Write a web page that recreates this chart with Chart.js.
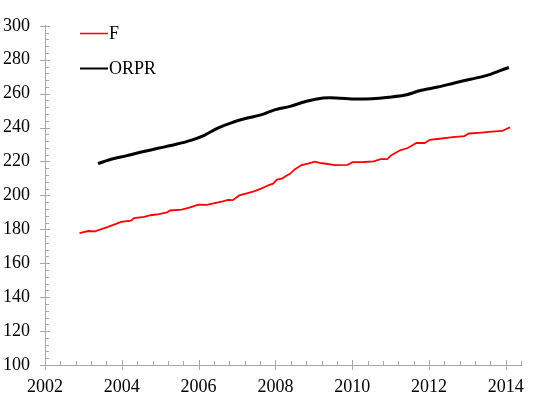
<!DOCTYPE html>
<html>
<head>
<meta charset="utf-8">
<script src="https://cdn.jsdelivr.net/npm/chart.js@4"></script>
<style>
  html, body { margin: 0; padding: 0; background: #fff; }
  #wrap { width: 535px; height: 393px; }
</style>
</head>
<body>
<div id="wrap"><canvas id="chart" width="535" height="393"></canvas></div>
<script>
// values
const fYears = [2002.90, 2003.13, 2003.30, 2003.47, 2003.64, 2003.85, 2003.98, 2004.24, 2004.32, 2004.58,
  2004.75, 2004.97, 2005.18, 2005.26, 2005.56, 2005.78, 2005.99, 2006.21, 2006.42, 2006.63,
  2006.76, 2006.89, 2007.06, 2007.23, 2007.44, 2007.66, 2007.83, 2007.94, 2008.04, 2008.17,
  2008.30, 2008.38, 2008.51, 2008.68, 2008.85, 2009.03, 2009.15, 2009.28, 2009.54, 2009.88,
  2010.01, 2010.31, 2010.56, 2010.74, 2010.91, 2011.03, 2011.25, 2011.46, 2011.67, 2011.89,
  2012.02, 2012.27, 2012.62, 2012.92, 2013.04, 2013.30, 2013.56, 2013.90, 2014.11];
const fValues = [177.7, 179.0, 178.8, 180.1, 181.4, 183.2, 184.4, 185.1, 186.6, 187.3,
  188.3, 189.0, 190.0, 191.1, 191.6, 192.9, 194.6, 194.4, 195.4, 196.5,
  197.4, 197.2, 200.0, 201.1, 202.4, 204.3, 206.1, 206.9, 209.3, 209.9,
  211.7, 212.7, 215.5, 217.9, 218.8, 219.9, 219.2, 218.8, 217.9, 218.0,
  219.6, 219.7, 220.1, 221.4, 221.4, 223.9, 226.6, 228.1, 230.9, 230.9,
  232.8, 233.4, 234.3, 235.0, 236.5, 236.9, 237.4, 238.0, 240.1];

const orprYears = [2003.38, 2003.77, 2004.11, 2004.54, 2004.97, 2005.39, 2005.82, 2006.16, 2006.50, 2006.85,
  2007.27, 2007.62, 2007.96, 2008.38, 2008.81, 2009.24, 2009.58, 2010.09, 2010.52, 2010.95,
  2011.38, 2011.80, 2012.23, 2012.66, 2013.08, 2013.51, 2013.85, 2014.08];
const orprValues = [218.8, 221.6, 223.3, 225.7, 227.9, 230.0, 232.6, 235.6, 239.7, 242.8,
  245.6, 247.5, 250.3, 252.5, 255.5, 257.4, 257.5, 256.8, 257.0, 257.9,
  259.2, 262.0, 263.9, 266.3, 268.5, 270.8, 273.6, 275.4];

const xTickLabels = [2002, 2004, 2006, 2008, 2010, 2012, 2014];
const yTickLabels = [100, 120, 140, 160, 180, 200, 220, 240, 260, 280, 300];

const fontName = '"Liberation Serif", "Times New Roman", serif';

function toPoints(xs, ys) {
    return xs.map((x, i) => ({ x: x, y: ys[i] }));
}

// tick marks crossing the axes, plus minor ticks
const axisTicks = {
    id: 'axisTicks',
    afterDraw(chart) {
        const ctx = chart.ctx;
        const xs = chart.scales.x, ys = chart.scales.y;
        const left = xs.left, bottom = ys.bottom;
        ctx.save();
        ctx.strokeStyle = '#a8a8a8';
        ctx.lineWidth = 1;
        ctx.beginPath();
        for (let v = 100; v <= 300.01; v += 4) {
            const py = Math.round(ys.getPixelForValue(v)) + 0.5;
            if (Math.round(v) % 20 === 0) {
                ctx.moveTo(left - 5, py); ctx.lineTo(left + 5, py);
            } else {
                ctx.moveTo(left, py); ctx.lineTo(left + 4, py);
            }
        }
        for (let k = 0; k <= 31; k++) {
            const v = 2002 + k * 0.4;
            const px = Math.round(xs.getPixelForValue(v)) + 0.5;
            if (k % 5 === 0) {
                ctx.moveTo(px, bottom - 5); ctx.lineTo(px, bottom + 5);
            } else {
                ctx.moveTo(px, bottom); ctx.lineTo(px, bottom - 4);
            }
        }
        ctx.stroke();
        ctx.restore();
    }
};

// legend drawn inside the plot, top left
const innerLegend = {
    id: 'innerLegend',
    afterDraw(chart) {
        const ctx = chart.ctx;
        const rows = [33, 68];
        ctx.save();
        ctx.font = '18px ' + fontName;
        ctx.textBaseline = 'middle';
        chart.data.datasets.forEach((ds, i) => {
            const y = rows[i] + 0.5;
            ctx.strokeStyle = ds.borderColor;
            ctx.lineWidth = i === 0 ? 1.5 : 2;
            ctx.beginPath();
            ctx.moveTo(80, y);
            ctx.lineTo(108, y);
            ctx.stroke();
            ctx.fillStyle = '#000';
            ctx.fillText(ds.label, 109, rows[i] + 1);
        });
        ctx.restore();
    }
};

new Chart(document.getElementById('chart'), {
    type: 'line',
    data: {
        datasets: [{
            label: 'F',
            data: toPoints(fYears, fValues),
            borderColor: '#ff0000',
            borderWidth: 1.8,
            pointRadius: 0,
            tension: 0
        }, {
            label: 'ORPR',
            data: toPoints(orprYears, orprValues),
            borderColor: '#000000',
            borderWidth: 3,
            pointRadius: 0,
            tension: 0.3
        }]
    },
    options: {
        responsive: false,
        animation: false,
        events: [],
        layout: { padding: { top: 7, right: 5, left: 0, bottom: 0 } },
        plugins: {
            legend: { display: false },
            tooltip: { enabled: false }
        },
        scales: {
            x: {
                type: 'linear',
                min: 2002,
                max: 2014.4,
                afterBuildTicks(scale) {
                    scale.ticks = xTickLabels.map(v => ({ value: v }));
                },
                afterFit(scale) { scale.height = 28; },
                grid: { display: false, drawTicks: false },
                border: { display: true, color: '#a8a8a8', width: 1, dash: [2, 1] },
                ticks: {
                    padding: 11,
                    color: '#000',
                    maxRotation: 0,
                    font: { family: fontName, size: 18 },
                    callback: v => String(v)
                }
            },
            y: {
                min: 100,
                max: 300,
                afterBuildTicks(scale) {
                    scale.ticks = yTickLabels.map(v => ({ value: v }));
                },
                afterFit(scale) { scale.width = 45; },
                grid: { display: false, drawTicks: false },
                border: { display: true, color: '#a8a8a8', width: 1, dash: [2, 1] },
                ticks: {
                    padding: 15,
                    color: '#000',
                    font: { family: fontName, size: 18 },
                    callback: v => String(v)
                }
            }
        }
    },
    plugins: [axisTicks, innerLegend]
});
</script>
</body>
</html>
